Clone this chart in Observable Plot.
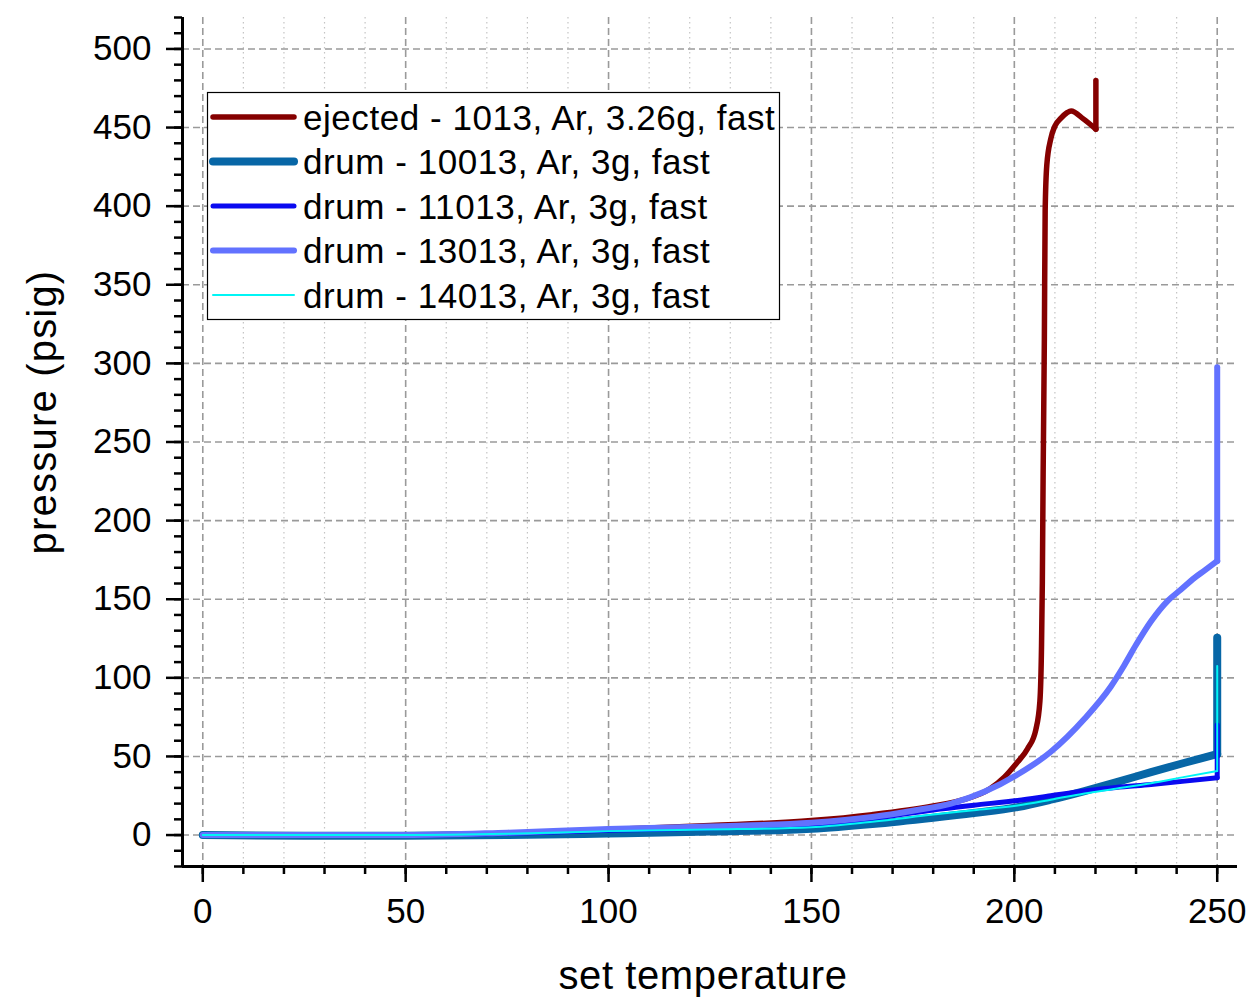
<!DOCTYPE html>
<html>
<head>
<meta charset="utf-8">
<script src="https://cdn.jsdelivr.net/npm/d3@7"></script>
<script src="https://cdn.jsdelivr.net/npm/@observablehq/plot@0.6"></script>
<style>
  html, body { margin: 0; padding: 0; background: white; }
  #chart { position: relative; width: 1249px; height: 997px; }
</style>
</head>
<body>
<div id="chart"></div>
<script>
// ---- axes / ticks ----
const xDomain = [-5, 255];
const yDomain = [-20, 520];
const xMajorTicks = [0, 50, 100, 150, 200, 250];
const xMinorTicks = [0, 10, 20, 30, 40, 50, 60, 70, 80, 90, 100, 110, 120, 130, 140, 150, 160, 170, 180, 190, 200, 210, 220, 230, 240, 250];
const yMajorTicks = [0, 50, 100, 150, 200, 250, 300, 350, 400, 450, 500];
const yMinorTicks = [-20, -10, 0, 10, 20, 30, 40, 50, 60, 70, 80, 90, 100, 110, 120, 130, 140, 150, 160, 170, 180, 190, 200, 210, 220, 230, 240, 250, 260, 270, 280, 290, 300, 310, 320, 330, 340, 350, 360, 370, 380, 390, 400, 410, 420, 430, 440, 450, 460, 470, 480, 490, 500, 510, 520];
const xLabel = "set temperature";
const yLabel = "pressure (psig)";

// ---- series (set temperature, pressure psig); last point = final vertical jump ----
const ejected1013 = [[0,0],[25,-0.3],[50,0],[75,1],[100,3.5],[125,6],[150,9.2],[165,13],[180,18.5],[187.4,22.5],[194,29.5],[197.6,37],[200.5,45.5],[203.3,55],[205.3,67],[206.3,85],[206.7,120],[206.9,160],[207.1,230],[207.4,315],[207.6,397],[208,426],[209,443],[210,451],[211.5,456],[213,459.5],[214,460.6],[217,455.5],[220.1,449],[220.1,480]];
const drum10013 = [[0,0],[25,-0.5],[50,-0.5],[75,0],[100,1],[125,2.2],[150,4],[165,7],[180,11],[190,14],[200.8,17.8],[209,22.5],[217.3,28],[225,33.5],[233.7,40],[242,46],[250,51.5],[250,125.5]];
const drum11013 = [[0,0],[25,0],[50,0],[75,1],[100,3],[125,4.5],[150,6.5],[165,10.5],[180,16],[190,19],[200.8,22],[209,25],[217.3,28],[225,30.3],[233.7,32.2],[242,34.3],[250,36.5],[250,70]];
const drum13013 = [[0,0],[25,0],[50,0],[75,1.5],[100,3.8],[125,5.5],[150,7.8],[165,11.5],[175,15.5],[184.4,20],[192.6,27.5],[200.8,38.5],[209,53],[217.3,74],[223.8,94.5],[227.1,108],[230,121],[233.7,136],[237.8,149],[241,156],[244.4,163.6],[247,168.5],[250,174.3],[250,297.5]];
const drum14013 = [[0,0],[25,0],[50,0],[75,0.8],[100,2.5],[125,3.5],[150,5],[165,8.5],[180,13],[190,15.8],[200.8,18.8],[209,22.5],[217.3,26.5],[225,29.5],[233.7,33],[242,37],[250,40.7],[250,107.5]];

const seriesLabels = ["ejected - 1013, Ar, 3.26g, fast", "drum - 10013, Ar, 3g, fast", "drum - 11013, Ar, 3g, fast", "drum - 13013, Ar, 3g, fast", "drum - 14013, Ar, 3g, fast"];
const seriesData = [ejected1013, drum10013, drum11013, drum13013, drum14013];
const seriesColors = ["#850000", "#0766a6", "#0a0af0", "#6272ff", "#00f5f5"];
const seriesWidths = [5.5, 8, 5, 6, 2];

const lineMarks = seriesData.flatMap((data, i) => {
  const opts = {
    x: d => d[0], y: d => d[1],
    stroke: seriesColors[i], strokeWidth: seriesWidths[i],
    strokeLinecap: "round", strokeLinejoin: "round"
  };
  return [
    Plot.line(data.slice(0, -1), {...opts, curve: "monotone-x"}),
    Plot.line(data.slice(-2), {...opts, curve: "linear"})
  ];
});

const svg = Plot.plot({
  width: 1249,
  height: 997,
  marginLeft: 182,
  marginRight: 12,
  marginTop: 17,
  marginBottom: 131,
  x: {domain: xDomain},
  y: {domain: yDomain},
  style: {fontFamily: "'Liberation Sans', Arial, sans-serif", color: "black", background: "white", overflow: "visible"},
  marks: [
    Plot.gridX(xMinorTicks.filter(t => !xMajorTicks.includes(t)), {stroke: "#c4c4c4", strokeOpacity: 1, strokeWidth: 1.2, strokeDasharray: "1.5,3.5"}),
    Plot.gridX(xMajorTicks, {stroke: "#9a9a9a", strokeOpacity: 1, strokeWidth: 1.6, strokeDasharray: "7,4"}),
    Plot.gridY(yMajorTicks, {stroke: "#9a9a9a", strokeOpacity: 1, strokeWidth: 1.6, strokeDasharray: "7,4"}),
    Plot.axisY(yMinorTicks, {tickSize: 8, strokeWidth: 2.5, tickFormat: () => "", label: null}),
    Plot.axisY(yMajorTicks, {tickSize: 16, tickPadding: 15, strokeWidth: 2.5, fontSize: 35, tickFormat: d => String(d), label: null}),
    Plot.axisX(xMinorTicks, {tickSize: 8, strokeWidth: 2.5, tickFormat: () => "", label: null}),
    Plot.axisX(xMajorTicks, {tickSize: 16, tickPadding: 16, strokeWidth: 2.5, fontSize: 35, tickFormat: d => String(d), label: null}),
    Plot.ruleX([xDomain[0]], {stroke: "black", strokeWidth: 3}),
    Plot.ruleY([yDomain[0]], {stroke: "black", strokeWidth: 3}),
    ...lineMarks,
    Plot.text([xLabel], {text: d => d, frameAnchor: "bottom", textAnchor: "middle", lineAnchor: "bottom", dy: 122, dx: -7, fontSize: 40, fill: "black"}),
    Plot.text([yLabel], {text: d => d, frameAnchor: "left", textAnchor: "middle", lineAnchor: "bottom", rotate: -90, dx: -127, dy: -30, fontSize: 40, fill: "black"})
  ]
});

// letter spacing for axis titles
d3.select(svg).selectAll("text").filter(function() { return this.textContent === xLabel; })
  .attr("letter-spacing", "0.6px");
d3.select(svg).selectAll("text").filter(function() { return this.textContent === yLabel; })
  .attr("letter-spacing", "1.2px");

// legend inside plot
const lg = d3.select(svg).append("g")
  .attr("font-family", "'Liberation Sans', Arial, sans-serif")
  .attr("text-anchor", "start");
lg.append("rect").attr("x", 207.5).attr("y", 92.5).attr("width", 572).attr("height", 227)
  .attr("fill", "white").attr("stroke", "black").attr("stroke-width", 1.2);
seriesLabels.forEach((label, i) => {
  const cy = 117 + 44.5 * i;
  lg.append("line").attr("x1", 213).attr("x2", 294).attr("y1", cy).attr("y2", cy)
    .attr("stroke", seriesColors[i]).attr("stroke-width", seriesWidths[i]).attr("stroke-linecap", "round");
  lg.append("text").attr("x", 303).attr("y", cy + 12.5).attr("font-size", 35)
    .attr("text-anchor", "start").attr("letter-spacing", "0.55px").attr("fill", "black").text(label);
});

document.getElementById("chart").appendChild(svg);
</script>
</body>
</html>
